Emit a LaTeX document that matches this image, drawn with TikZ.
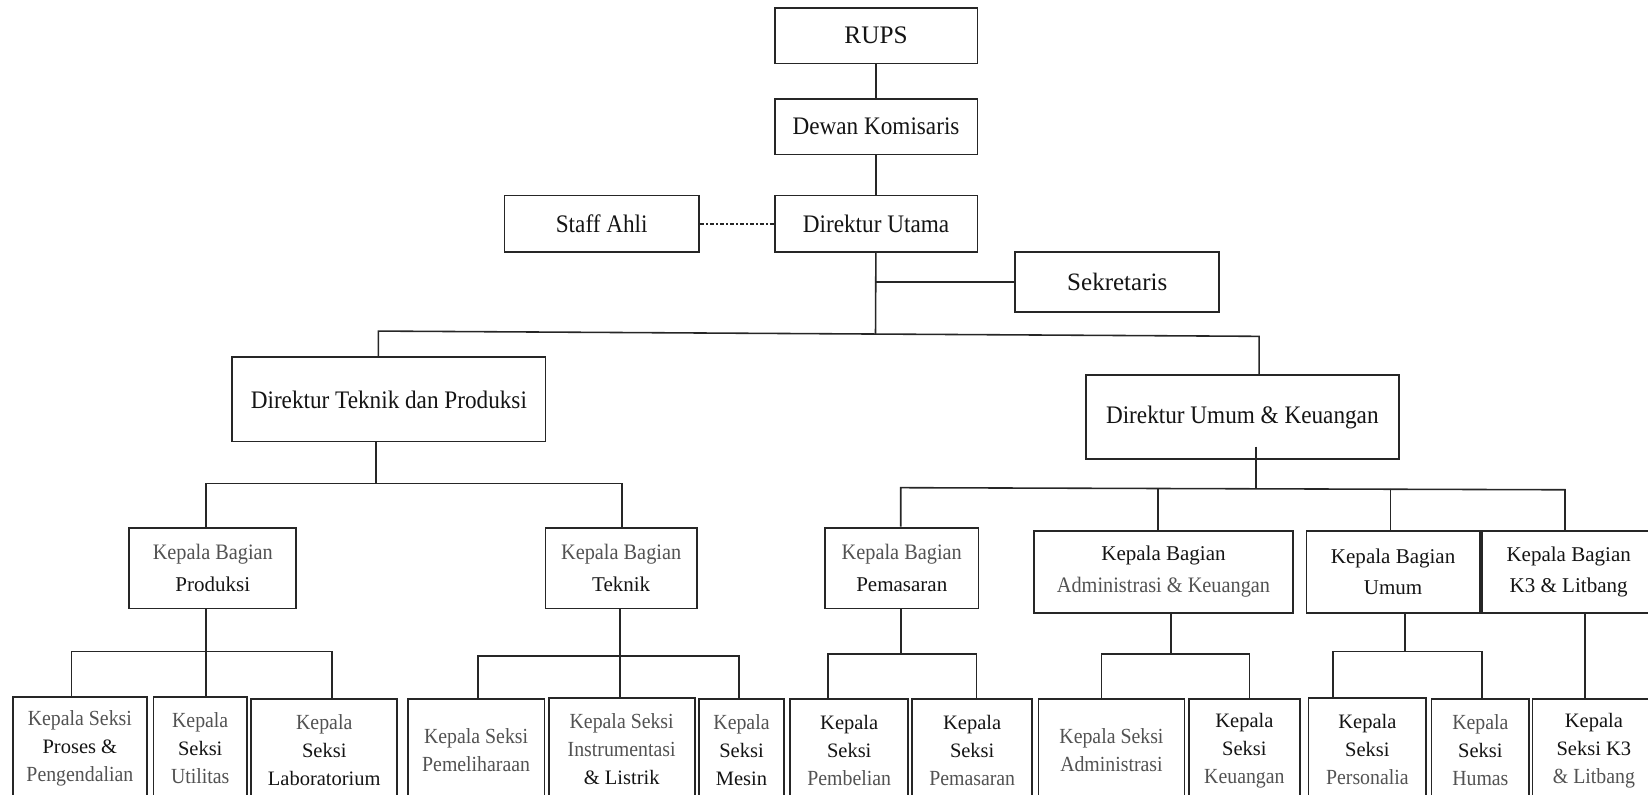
\documentclass[tikz,border=0pt]{standalone}
\usepackage{fontspec}
\setmainfont{Liberation Serif}
\newfontfamily\lf[FakeStretch=0.92]{Liberation Serif}
\newfontfamily\df{Liberation Serif}
\definecolor{darkc}{gray}{0.08}
\definecolor{lightc}{gray}{0.32}
\newcommand\Lt[1]{{\lf\color{lightc}\fontsize{20.5}{26.6}\selectfont #1}}
\newcommand\Dk[1]{{\df\color{darkc}\fontsize{19.5}{26.6}\selectfont #1}}
\newcommand\Lm[1]{{\lf\color{lightc}\fontsize{21}{30}\selectfont #1}}
\newcommand\Dm[1]{{\df\color{darkc}\fontsize{20}{30}\selectfont #1}}
\tikzset{
  box/.style={draw=black!85, line width=1.7pt, inner sep=0pt, align=center, text=darkc},
  con/.style={line width=1.5pt, draw=black!85},
  topbox/.style={box, minimum width=193pt, minimum height=53pt, font=\lf\fontsize{24}{28}\selectfont},
  midbox/.style={box, minimum height=77pt, font=\fontsize{20}{30}\selectfont},
  botbox/.style={box, minimum height=98pt, font=\fontsize{20}{26.6}\selectfont},
}
\begin{document}
\begin{tikzpicture}[x=1pt, y=-1pt]
\useasboundingbox (0,0) rectangle (1568,756);
\clip (0,0) rectangle (1568,756);
% top
\node[topbox] (rups) at (833.5,34) {\df RUPS};
\node[topbox] (dk) at (833.5,120.5) {Dewan Komisaris};
\node[topbox, minimum height=54pt] (du) at (833.5,213) {Direktur Utama};
\node[topbox, minimum width=185pt, minimum height=54pt] (sa) at (572.5,213) {Staff Ahli};
\node[topbox, minimum width=194pt, minimum height=57pt] (sek) at (1063,268.5) {\df\fontsize{23.8}{28}\selectfont Sekretaris};
\node[topbox, minimum width=298pt, minimum height=80pt] (dtp) at (370,380) {Direktur Teknik dan Produksi};
\node[topbox, minimum width=298pt, minimum height=80pt] (duk) at (1182,397) {Direktur Umum \& Keuangan};
% middle
\node[midbox, minimum width=159pt] (kbp) at (202.5,540.5) {\Lm{Kepala Bagian}\\\Dm{Produksi}};
\node[midbox, minimum width=144pt] (kbt) at (591,540.5) {\Lm{Kepala Bagian}\\\Dm{Teknik}};
\node[midbox, minimum width=146pt] (kbm) at (858,540.5) {\Lm{Kepala Bagian}\\\Dm{Pemasaran}};
\node[midbox, minimum width=246pt, minimum height=78pt] (kba) at (1107,544) {\Dm{Kepala Bagian}\\\Lm{Administrasi \& Keuangan}};
\node[midbox, minimum width=165pt, minimum height=78pt] (kbu) at (1325.5,544) {\Dm{Kepala Bagian}\\\Dm{Umum}};
\node[midbox, minimum width=165pt, minimum height=78pt] (kbk) at (1492.5,544) {\Dm{Kepala Bagian}\\\Dm{K3 \& Litbang}};
% bottom
\node[botbox, minimum width=128pt] (s1) at (76,712) {\Lt{Kepala Seksi}\\\Dk{Proses \&}\\\Lt{Pengendalian}};
\node[botbox, minimum width=89pt] (s2) at (190.5,712) {\Lt{Kepala}\\\Dk{Seksi}\\\Lt{Utilitas}};
\node[botbox, minimum width=139pt] (s3) at (308.5,714) {\Lt{Kepala}\\\Dk{Seksi}\\\Dk{Laboratorium}};
\node[botbox, minimum width=130pt] (s4) at (453,714) {\Lt{Kepala Seksi}\\\Lt{Pemeliharaan}};
\node[botbox, minimum width=139pt] (s5) at (591.5,713) {\Lt{Kepala Seksi}\\\Lt{Instrumentasi}\\\Dk{\& Listrik}};
\node[botbox, minimum width=81pt] (s6) at (705.5,714) {\Lt{Kepala}\\\Dk{Seksi}\\\Dk{Mesin}};
\node[botbox, minimum width=112pt] (s7) at (808,714) {\Dk{Kepala}\\\Dk{Seksi}\\\Lt{Pembelian}};
\node[botbox, minimum width=114pt] (s8) at (925,714) {\Dk{Kepala}\\\Dk{Seksi}\\\Lt{Pemasaran}};
\node[botbox, minimum width=139pt] (s9) at (1057.5,714) {\Lt{Kepala Seksi}\\\Lt{Administrasi}};
\node[botbox, minimum width=106pt] (s10) at (1184,714) {\Dk{Kepala}\\\Dk{Seksi}\\\Lt{Keuangan}};
\node[botbox, minimum width=112pt] (s11) at (1301,713) {\Dk{Kepala}\\\Dk{Seksi}\\\Lt{Personalia}};
\node[botbox, minimum width=93pt] (s12) at (1408.5,714) {\Lt{Kepala}\\\Dk{Seksi}\\\Lt{Humas}};
\node[botbox, minimum width=117pt] (s13) at (1516.5,714) {\Dk{Kepala}\\\Dk{Seksi K3}\\\Lt{\& Litbang}};
% connectors top
\draw[con] (rups) -- (dk);
\draw[con] (dk) -- (du);
\draw[con, dash pattern=on 4pt off 2pt on 1.5pt off 2pt] (sa) -- (du);
\coordinate (j0) at (833,318);
\draw[con] (du) -- (j0);
\draw[con] (sek.west) -- (sek.west -| du.south);
\coordinate (cbL) at (360,315);
\coordinate (cbR) at (1198,320);
\draw[con] (cbL |- dtp.north) -- (cbL) -- (cbR) -- (cbR |- duk.north);
% DTP branch
\coordinate (j1) at (358,460);
\coordinate (j1L) at (196,460);
\coordinate (j1R) at (592,460);
\draw[con] (j1 |- dtp.south) -- (j1);
\draw[con] (j1L |- kbp.north) -- (j1L) -- (j1R) -- (j1R |- kbt.north);
% DUK branch
\coordinate (j2s) at (1195,425);
\coordinate (j2) at (1195,464);
\coordinate (j2L) at (857,464);
\coordinate (j2R) at (1489,466);
\coordinate (j2a) at (1102,465);
\coordinate (j2b) at (1323,465);
\draw[con] (j2s) -- (j2);
\draw[con] (j2L |- kbm.north) -- (j2L) -- (j2R) -- (j2R |- kbk.north);
\draw[con] (j2a) -- (j2a |- kba.north);
\draw[con] (j2b) -- (j2b |- kbu.north);
% Produksi
\coordinate (p0) at (196,620);
\coordinate (pL) at (68,620);
\coordinate (pR) at (316,620);
\draw[con] (p0 |- kbp.south) -- (p0 |- s2.north);
\draw[con] (pL |- s1.north) -- (pL) -- (pR) -- (pR |- s3.north);
% Teknik
\coordinate (t0) at (590,624);
\coordinate (tL) at (455,624);
\coordinate (tR) at (703,624);
\draw[con] (t0 |- kbt.south) -- (t0 |- s5.north);
\draw[con] (tL |- s4.north) -- (tL) -- (tR) -- (tR |- s6.north);
% Pemasaran
\coordinate (m0) at (857,622);
\coordinate (mL) at (788,622);
\coordinate (mR) at (929,622);
\draw[con] (m0 |- kbm.south) -- (m0);
\draw[con] (mL |- s7.north) -- (mL) -- (mR) -- (mR |- s8.north);
% Administrasi & Keuangan
\coordinate (a0) at (1114,622);
\coordinate (aL) at (1048,622);
\coordinate (aR) at (1189,622);
\draw[con] (a0 |- kba.south) -- (a0);
\draw[con] (aL |- s9.north) -- (aL) -- (aR) -- (aR |- s10.north);
% Umum
\coordinate (u0) at (1337,620);
\coordinate (uL) at (1268,620);
\coordinate (uR) at (1410,620);
\draw[con] (u0 |- kbu.south) -- (u0);
\draw[con] (uL |- s11.north) -- (uL) -- (uR) -- (uR |- s12.north);
% K3
\coordinate (k0) at (1508,600);
\draw[con] (k0 |- kbk.south) -- (k0 |- s13.north);
\end{tikzpicture}
\end{document}
